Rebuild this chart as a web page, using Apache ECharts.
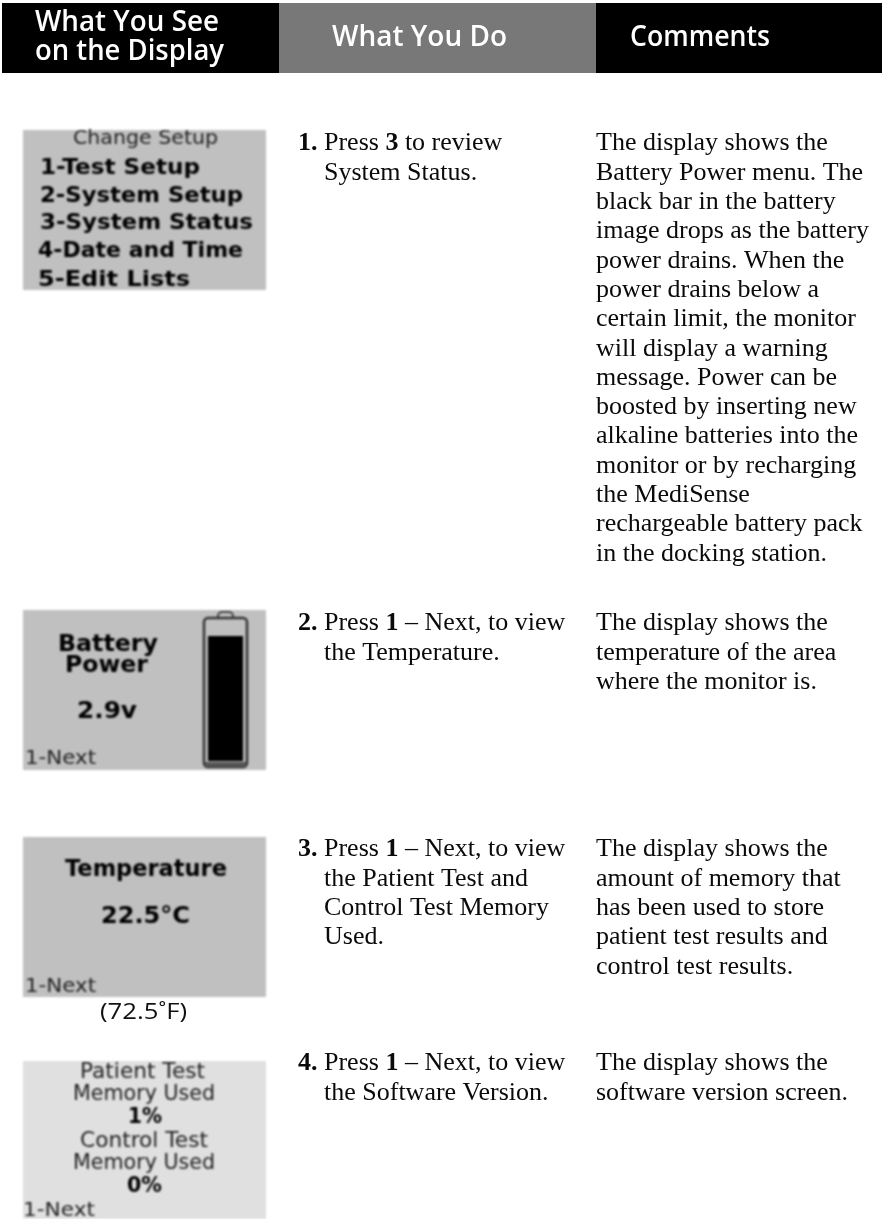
<!DOCTYPE html>
<html><head><meta charset="utf-8">
<style>
html,body{margin:0;padding:0;background:#fff;overflow:hidden}
#main,#lcd{position:absolute;left:0;top:0;width:882px;height:1219px}
#lcd{filter:blur(1px)}
</style>
<script src="https://cdn.jsdelivr.net/npm/echarts@6/dist/echarts.min.js"></script>
</head><body>
<div id="lcd"></div><div id="main"></div>
<script>
// ---- content ----
const headerLeft = ['What You See', 'on the Display'];
const headerMiddle = 'What You Do';
const headerRight = 'Comments';
const stepNumbers = ['1.', '2.', '3.', '4.'];
const stepActions = [
  ['Press {b|3} to review', 'System Status.'],
  ['Press {b|1} – Next, to view', 'the Temperature.'],
  ['Press {b|1} – Next, to view', 'the Patient Test and', 'Control Test Memory', 'Used.'],
  ['Press {b|1} – Next, to view', 'the Software Version.']
];
const stepComments = [
  ['The display shows the', 'Battery Power menu. The', 'black bar in the battery', 'image drops as the battery',
   'power drains. When the', 'power drains below a', 'certain limit, the monitor', 'will display a warning',
   'message. Power can be', 'boosted by inserting new', 'alkaline batteries into the', 'monitor or by recharging',
   'the MediSense', 'rechargeable battery pack', 'in the docking station.'],
  ['The display shows the', 'temperature of the area', 'where the monitor is.'],
  ['The display shows the', 'amount of memory that', 'has been used to store', 'patient test results and', 'control test results.'],
  ['The display shows the', 'software version screen.']
];
const fahrenheit = '(72.5˚F)';
const menuText = ['Change Setup', '1-Test Setup', '2-System Setup', '3-System Status', '4-Date and Time', '5-Edit Lists'];
const batteryText = ['Battery', 'Power', '2.9v', '1-Next'];
const temperatureText = ['Temperature', '22.5°C', '1-Next'];
const memoryText = ['Patient Test', 'Memory Used', '1%', 'Control Test', 'Memory Used', '0%', '1-Next'];

// ---- layout (left, right, baseline, font size, bold) ----
const stepBaselines = [152.5, 632.5, 858.5, 1072.5];
const menuLayout = [[73,218,146,19,0],[40,200,176,21,1],[40,243,204,21,1],[40,253,231,21,1],[38,243,259,21,1],[38,190,288,21,1]];
const batteryLayout = [[58,158,653,23,1],[65,148,674,23,1],[77,137,720,23,1],[25,96,766,20,0]];
const temperatureLayout = [[65,227,878,23,1],[101,190,925,23,1],[25,96,994,20,0]];
const memoryLayout = [[80,205,1080,22,0],[73,215,1102,22,0],[128,162,1125,22,1],[80,208,1149,22,0],[73,215,1171,22,0],[127,162,1194,22,1],[23,95,1218,20,0]];

// ---- helpers ----
const probe = document.createElement('canvas').getContext('2d');
function fitText(text, left, right, baseline, size, family, weight, fill) {
  probe.font = weight + ' ' + size + 'px ' + family;
  const w = probe.measureText(text).width;
  return { type: 'text', x: left, y: baseline - size * 0.34, scaleX: (right - left) / w,
    style: { text, fontSize: size, fontFamily: family, fontWeight: weight, fill, textAlign: 'left', verticalAlign: 'middle' } };
}
const SERIF = '"Liberation Serif"';
const SIZE = 26, PITCH = 29.3;
function bodyLine(text, x, baseline, weight) {
  return { type: 'text', x, y: baseline - SIZE * 0.34,
    style: { text, fontSize: SIZE, fontFamily: SERIF, fontWeight: weight || 'normal', fill: '#0a0a0a', textAlign: 'left', verticalAlign: 'middle',
      rich: { b: { fontSize: SIZE, fontFamily: SERIF, fontWeight: 'bold', fill: '#0a0a0a' } } } };
}
function rect(x, y, w, h, fill) { return { type: 'rect', shape: { x, y, width: w, height: h }, style: { fill } }; }

// ---- crisp layer ----
const HEAD = '"Open Sans"';
const mainEls = [
  rect(2, 3, 277, 70, '#000'), rect(279, 3, 317, 70, '#787878'), rect(596, 3, 286, 70, '#000'),
  fitText(headerLeft[0], 35, 219, 33, 28, HEAD, '600', '#fff'),
  fitText(headerLeft[1], 35, 224, 62, 28, HEAD, '600', '#fff'),
  fitText(headerMiddle, 332, 507, 48, 28, HEAD, '600', '#fff'),
  fitText(headerRight, 630, 770, 48, 28, HEAD, '600', '#fff'),
  fitText(fahrenheit, 100, 187, 1020, 22, HEAD, 'normal', '#111')
];
stepNumbers.forEach((n, i) => {
  mainEls.push(bodyLine(n, 298, stepBaselines[i], 'bold'));
  stepActions[i].forEach((t, k) => mainEls.push(bodyLine(t, 324, stepBaselines[i] + k * PITCH)));
  stepComments[i].forEach((t, k) => mainEls.push(bodyLine(t, 596, stepBaselines[i] + k * PITCH)));
});

// ---- blurred display layer ----
const lcdEls = [
  rect(23, 130, 243, 160, '#c0c0c0'), rect(23, 610, 243, 160, '#c0c0c0'),
  rect(23, 837, 243, 160, '#c0c0c0'), rect(23, 1061, 243, 170, '#e0e0e0'),
  { type: 'rect', shape: { x: 218, y: 612, width: 15, height: 12, r: 4 }, style: { fill: 'none', stroke: '#444', lineWidth: 2 } },
  { type: 'rect', shape: { x: 204, y: 618, width: 43, height: 149, r: 4 }, style: { fill: '#c0c0c0', stroke: '#333', lineWidth: 2.5 } },
  rect(208, 636, 35, 125, '#000'),
  rect(205, 762, 41, 5, '#555')
];
[[menuText, menuLayout], [batteryText, batteryLayout], [temperatureText, temperatureLayout], [memoryText, memoryLayout]].forEach(([texts, layout]) =>
  texts.forEach((t, i) => {
    const [l, r, b, s, bold] = layout[i];
    lcdEls.push(fitText(t, l, r, b, s, '"DejaVu Sans"', bold ? 'bold' : 'normal', bold ? '#000' : '#222'));
  }));

echarts.init(document.getElementById('lcd'), null, { renderer: 'canvas' }).setOption({ animation: false, graphic: { elements: lcdEls } });
echarts.init(document.getElementById('main'), null, { renderer: 'canvas' }).setOption({ animation: false, backgroundColor: 'transparent', graphic: { elements: mainEls } });
</script>
</body></html>
